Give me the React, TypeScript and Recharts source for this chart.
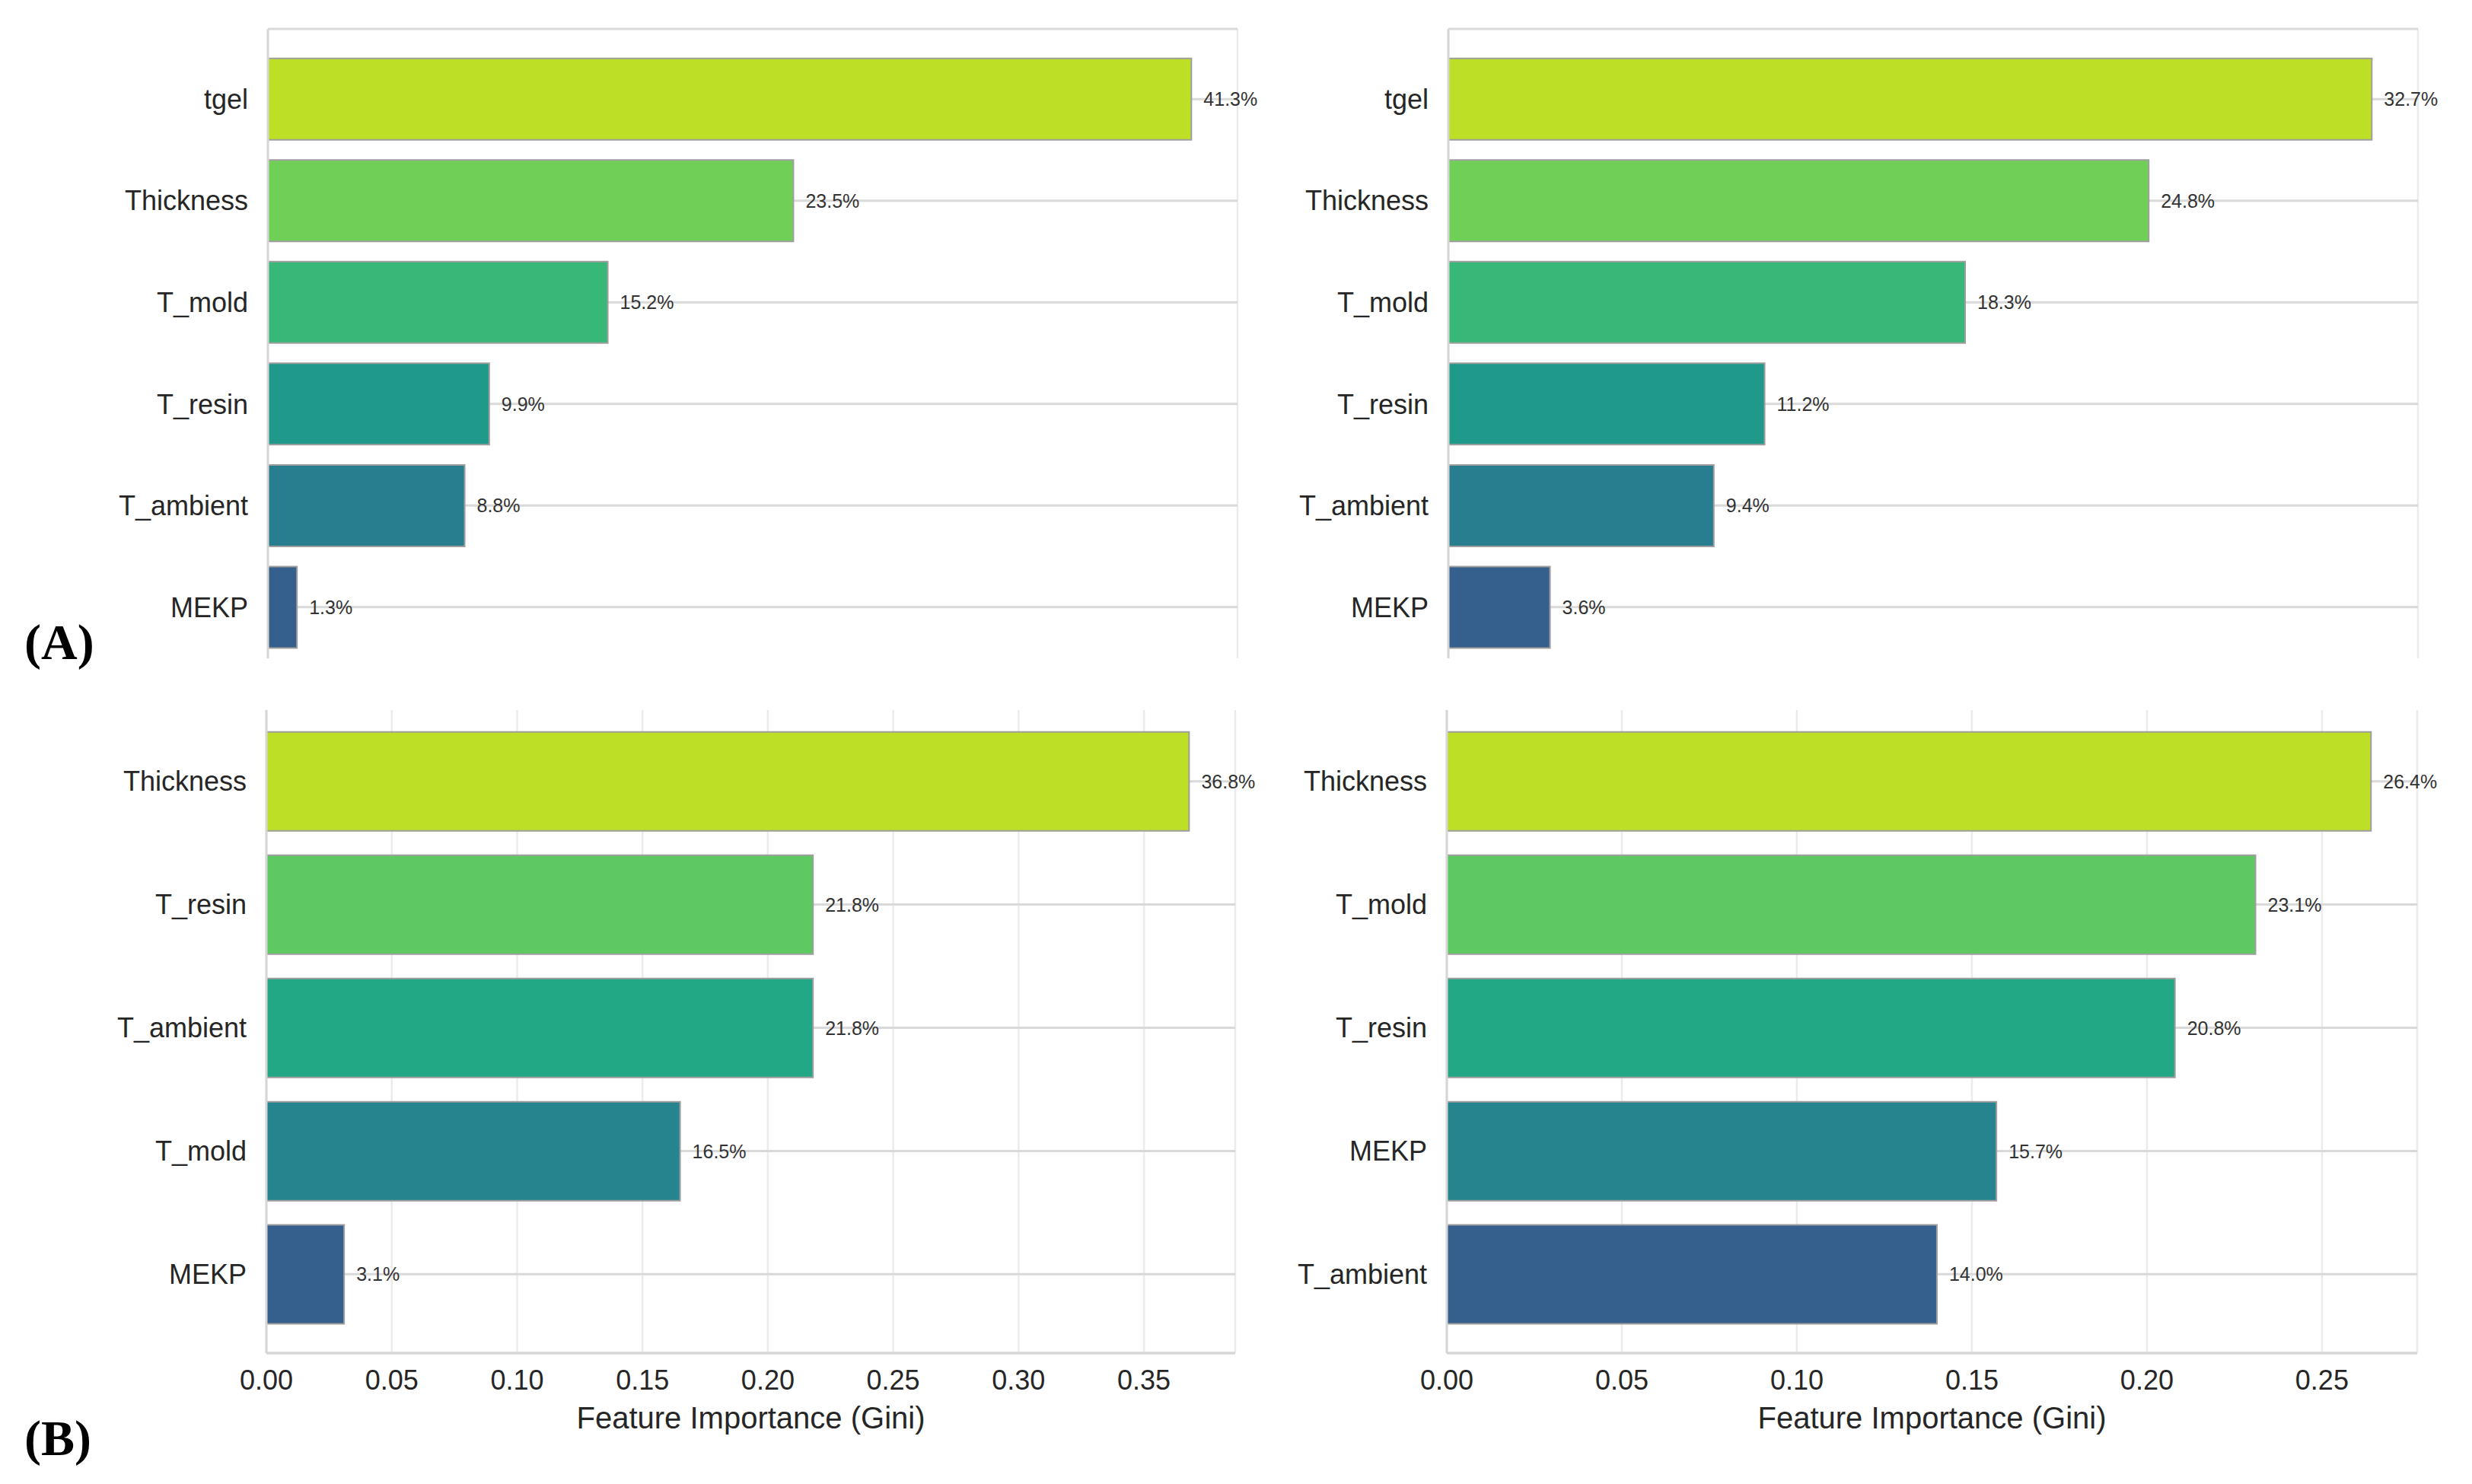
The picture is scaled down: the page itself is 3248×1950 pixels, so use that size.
import React from 'react';
import { BarChart, Bar, XAxis, YAxis, CartesianGrid, Cell, LabelList } from 'recharts';

// (A) left: gel time model
const aLeftNames = ['tgel', 'Thickness', 'T_mold', 'T_resin', 'T_ambient', 'MEKP'];
const aLeftValues = [0.413, 0.235, 0.152, 0.099, 0.088, 0.013];
const aLeftTicks = [0, 0.05, 0.1, 0.15, 0.2, 0.25, 0.3, 0.35, 0.4];

// (A) right
const aRightNames = ['tgel', 'Thickness', 'T_mold', 'T_resin', 'T_ambient', 'MEKP'];
const aRightValues = [0.327, 0.248, 0.183, 0.112, 0.094, 0.036];
const aRightTicks = [0, 0.05, 0.1, 0.15, 0.2, 0.25, 0.3];

// (B) left
const bLeftNames = ['Thickness', 'T_resin', 'T_ambient', 'T_mold', 'MEKP'];
const bLeftValues = [0.368, 0.218, 0.218, 0.165, 0.031];
const bLeftTicks = [0, 0.05, 0.1, 0.15, 0.2, 0.25, 0.3, 0.35];

// (B) right
const bRightNames = ['Thickness', 'T_mold', 'T_resin', 'MEKP', 'T_ambient'];
const bRightValues = [0.264, 0.231, 0.208, 0.157, 0.14];
const bRightTicks = [0, 0.05, 0.1, 0.15, 0.2, 0.25];

// viridis, ranked
const palette6 = ['#bddf26', '#70cf57', '#37b878', '#1f9a8a', '#287d8e', '#355f8d'];
const palette5 = ['#bddf26', '#5ec962', '#22a884', '#25848e', '#355f8d'];

const Y_W = 260;
const M_T = 10;
const M_R = 80;
const X_H = 110;
const FRAME = '#d6d6d6';
const TEXT = '#262626';

interface PanelProps {
  names: string[];
  values: number[];
  ticks: number[];
  colors: string[];
  plotLeft: number;
  plotTop: number;
  plotWidth: number;
  plotHeight: number;
  offsetTop: number;
  showXAxis: boolean;
}

function FeaturePanel({
  names,
  values,
  ticks,
  colors,
  plotLeft,
  plotTop,
  plotWidth,
  plotHeight,
  offsetTop,
  showXAxis,
}: PanelProps) {
  const data = names.map((name, i) => ({ name, value: values[i] }));
  const n = names.length;
  // matplotlib-like margins around the bar rows
  const step = plotHeight / (n + 2 * (0.05 * n - 0.11));
  const pad = (0.05 * n - 0.11) * step;
  const xMax = Math.max(...values) * 1.05;

  return (
    <div style={{ position: 'absolute', left: plotLeft - Y_W, top: plotTop - M_T - offsetTop }}>
      <BarChart
        width={Y_W + plotWidth + M_R}
        height={M_T + plotHeight + X_H}
        data={data}
        layout="vertical"
        margin={{ top: M_T, right: M_R, bottom: 0, left: 0 }}
        barCategoryGap="10%"
      >
        <CartesianGrid horizontal={false} stroke="#ebebeb" strokeWidth={2.5} />
        <CartesianGrid vertical={false} stroke="#d9d9d9" strokeWidth={3} />
        <XAxis
          type="number"
          dataKey="value"
          domain={[0, xMax]}
          ticks={ticks}
          tickFormatter={(v: number) => v.toFixed(2)}
          tickLine={false}
          tickSize={0}
          tickMargin={22}
          height={X_H}
          axisLine={{ stroke: FRAME, strokeWidth: 3 }}
          tick={showXAxis ? { fontSize: 36, fill: TEXT } : false}
          label={
            showXAxis
              ? { value: 'Feature Importance (Gini)', position: 'insideBottom', offset: 11, fontSize: 40, fill: TEXT }
              : undefined
          }
        />
        <XAxis
          xAxisId="frame"
          orientation="top"
          type="number"
          domain={[0, 1]}
          height={0}
          tick={false}
          tickLine={false}
          axisLine={{ stroke: FRAME, strokeWidth: 3 }}
        />
        <YAxis
          type="category"
          dataKey="name"
          width={Y_W}
          interval={0}
          tickLine={false}
          tickSize={0}
          tickMargin={26}
          padding={{ top: pad, bottom: pad }}
          axisLine={{ stroke: FRAME, strokeWidth: 3 }}
          tick={{ fontSize: 36, fill: TEXT }}
        />
        <YAxis
          yAxisId="frame"
          orientation="right"
          type="number"
          domain={[0, 1]}
          width={0}
          tick={false}
          tickLine={false}
          axisLine={{ stroke: FRAME, strokeWidth: 3 }}
        />
        <Bar dataKey="value" stroke="#9e9e9e" strokeWidth={2} isAnimationActive={false}>
          {data.map((d, i) => (
            <Cell key={d.name} fill={colors[i]} />
          ))}
          <LabelList
            dataKey="value"
            position="right"
            offset={16}
            fontSize={25}
            fill="#333333"
            formatter={(v: number) => `${(v * 100).toFixed(1)}%`}
          />
        </Bar>
      </BarChart>
    </div>
  );
}

const panelLabel: React.CSSProperties = {
  position: 'absolute',
  left: 32,
  fontFamily: '"Liberation Serif", "Times New Roman", serif',
  fontWeight: 'bold',
  fontSize: 66,
  lineHeight: '66px',
  color: '#000',
};

export default function App() {
  return (
    <div
      style={{
        position: 'absolute',
        left: 0,
        top: 0,
        width: 3248,
        height: 1950,
        background: '#ffffff',
        overflow: 'hidden',
        fontFamily: '"Liberation Sans", Arial, sans-serif',
      }}
    >
      {/* upper row: the x axes fall below the visible strip */}
      <div style={{ position: 'absolute', left: 0, top: 0, width: 3248, height: 865, overflow: 'hidden' }}>
        <FeaturePanel
          names={aLeftNames}
          values={aLeftValues}
          ticks={aLeftTicks}
          colors={palette6}
          plotLeft={352}
          plotTop={38}
          plotWidth={1274}
          plotHeight={852}
          offsetTop={0}
          showXAxis={false}
        />
        <FeaturePanel
          names={aRightNames}
          values={aRightValues}
          ticks={aRightTicks}
          colors={palette6}
          plotLeft={1903}
          plotTop={38}
          plotWidth={1274}
          plotHeight={852}
          offsetTop={0}
          showXAxis={false}
        />
      </div>
      <div style={{ position: 'absolute', left: 0, top: 933, width: 3248, height: 1017, overflow: 'hidden' }}>
        <FeaturePanel
          names={bLeftNames}
          values={bLeftValues}
          ticks={bLeftTicks}
          colors={palette5}
          plotLeft={350}
          plotTop={923}
          plotWidth={1273}
          plotHeight={855}
          offsetTop={933}
          showXAxis
        />
        <FeaturePanel
          names={bRightNames}
          values={bRightValues}
          ticks={bRightTicks}
          colors={palette5}
          plotLeft={1901}
          plotTop={923}
          plotWidth={1275}
          plotHeight={855}
          offsetTop={933}
          showXAxis
        />
      </div>
      <div style={{ ...panelLabel, top: 811 }}>(A)</div>
      <div style={{ ...panelLabel, top: 1857 }}>(B)</div>
    </div>
  );
}
